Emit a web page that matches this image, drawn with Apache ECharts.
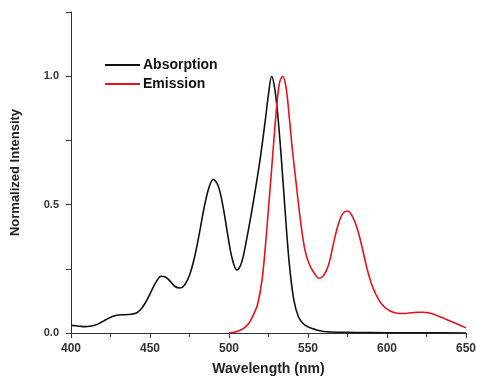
<!DOCTYPE html>
<html>
<head>
<meta charset="utf-8">
<script src="https://cdn.jsdelivr.net/npm/echarts@6/dist/echarts.min.js"></script>
<style>
html,body{margin:0;padding:0;background:#fff;}
#chart{width:477px;height:379px;}
</style>
</head>
<body>
<div id="chart"></div>
<script>
// Absorption spectrum (wavelength nm, normalized intensity)
var absWl  = [400,403,406,409,412,415,418,421,424,427,430,433,436,439,442,445,448,451,454,457,460,463,466,469,472,475,478,481,484,487,490,493,496,499,502,505,508,511,514,517,520,523,525,527,529,531,533,535,538,541,544,547,550,553,556,559,562,565,570,580,600,625,650];
var absVal = [0.030,0.028,0.026,0.025,0.026,0.030,0.038,0.048,0.058,0.066,0.070,0.071,0.072,0.074,0.080,0.098,0.128,0.165,0.200,0.221,0.217,0.200,0.180,0.175,0.188,0.225,0.290,0.380,0.480,0.560,0.598,0.575,0.500,0.390,0.290,0.245,0.275,0.360,0.460,0.570,0.690,0.830,0.930,1.000,0.950,0.840,0.690,0.520,0.280,0.130,0.062,0.036,0.024,0.017,0.011,0.007,0.005,0.004,0.003,0.002,0.001,0.001,0.000];
// Emission spectrum
var emWl  = [500,503,506,509,512,515,518,521,524,527,530,532,534,536,538,540,542,545,548,551,554,557,560,563,566,569,572,575,578,581,584,587,590,593,596,599,602,605,608,611,614,617,620,623,626,629,632,635,638,641,644,647,650];
var emVal = [0.000,0.003,0.008,0.017,0.033,0.065,0.110,0.210,0.410,0.640,0.870,0.975,1.000,0.960,0.850,0.720,0.610,0.450,0.325,0.265,0.233,0.213,0.225,0.265,0.345,0.420,0.465,0.475,0.455,0.410,0.340,0.260,0.195,0.150,0.118,0.098,0.086,0.079,0.076,0.076,0.078,0.080,0.081,0.081,0.079,0.074,0.067,0.060,0.052,0.044,0.036,0.028,0.020];
var xTicks = [400,450,500,550,600,650];
var yLabels = ['0.0','0.5','1.0'];
var seriesNames = ['Absorption','Emission'];

function pairs(xs, ys){ return xs.map(function(x,i){ return [x, ys[i]]; }); }

var chart = echarts.init(document.getElementById('chart'), null, {renderer:'canvas'});
var font = 'Liberation Sans, Arial, sans-serif';
chart.setOption({
  animation:false,
  backgroundColor:'#fff',
  grid:{left:71, right:11, top:12, bottom:46, containLabel:false, outerBoundsMode:'none'},
  legend:{
    left:105, top:58, padding:0, orient:'vertical', icon:'rect',
    itemWidth:35, itemHeight:2, itemGap:5,
    textStyle:{fontFamily:font, fontWeight:'bold', fontSize:14, color:'#111', padding:[0,0,0,-2]},
    data:seriesNames
  },
  xAxis:{
    type:'value', min:xTicks[0], max:xTicks[xTicks.length-1], interval:50,
    name:'Wavelength (nm)', nameLocation:'middle', nameGap:29,
    nameTextStyle:{fontFamily:font, fontWeight:'bold', fontSize:14, color:'#222'},
    axisLine:{lineStyle:{color:'#333', width:1}},
    axisTick:{length:5, lineStyle:{color:'#333'}},
    minorTick:{show:true, splitNumber:2, length:4, lineStyle:{color:'#333'}},
    splitLine:{show:false},
    axisLabel:{fontFamily:font, fontWeight:'bold', fontSize:12, color:'#333', margin:10,
      formatter:function(v){ return xTicks.indexOf(v)>=0 ? String(v) : ''; }}
  },
  yAxis:{
    type:'value', min:0, max:1.25, interval:0.25,
    name:'Normalized Intensity', nameLocation:'middle', nameGap:49, nameRotate:90,
    nameTextStyle:{fontFamily:font, fontWeight:'bold', fontSize:13, color:'#222'},
    axisLine:{show:true, lineStyle:{color:'#333', width:1}},
    axisTick:{show:true, length:5, lineStyle:{color:'#333'}},
    splitLine:{show:false},
    axisLabel:{fontFamily:font, fontWeight:'bold', fontSize:11, color:'#333', margin:12,
      formatter:function(v){
        var s = v.toFixed(1);
        return (Math.abs(v*2 - Math.round(v*2))<1e-9 && yLabels.indexOf(s)>=0) ? s : '';
      }}
  },
  series:[
    {name:seriesNames[0], type:'line', data:pairs(absWl,absVal), smooth:0.35, symbol:'none',
     lineStyle:{color:'#111', width:1.6}, itemStyle:{color:'#111'}},
    {name:seriesNames[1], type:'line', data:pairs(emWl,emVal), smooth:0.35, symbol:'none',
     lineStyle:{color:'#e8111c', width:1.6}, itemStyle:{color:'#e8111c'}}
  ]
});
</script>
</body>
</html>
